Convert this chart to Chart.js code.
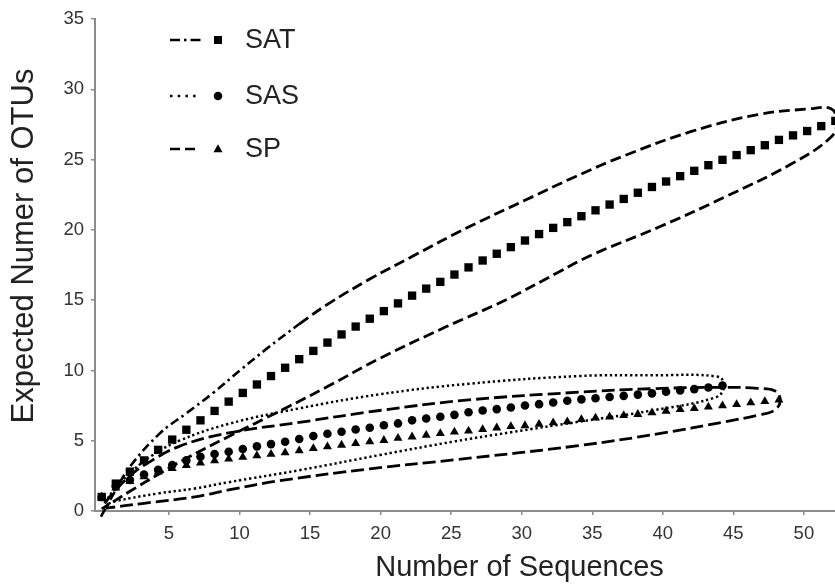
<!DOCTYPE html>
<html>
<head>
<meta charset="utf-8">
<title>Rarefaction</title>
<script src="https://cdn.jsdelivr.net/npm/chart.js@4.4.0/dist/chart.umd.min.js"></script>
<style>
    html, body { margin: 0; padding: 0; background: #fff; overflow: hidden; }
    #wrap { width: 960px; height: 585px; }
</style>
</head>
<body>
<div id="wrap"><canvas id="rarefactionChart" width="960" height="585"></canvas></div>
<script>
// Data (x = number of sequences, 1..N)
const seriesLabels = ['SAT', 'SAS', 'SP'];
const xTickLabels = [5, 10, 15, 20, 25, 30, 35, 40, 45, 50];

const satValues = [
    1.00, 1.95, 2.80, 3.60, 4.35, 5.08, 5.78, 6.45, 7.12, 7.78,
    8.40, 9.00, 9.60, 10.19, 10.80, 11.39, 11.98, 12.56, 13.12, 13.68,
    14.22, 14.77, 15.32, 15.82, 16.30, 16.82, 17.33, 17.82, 18.30, 18.77,
    19.24, 19.70, 20.14, 20.55, 20.97, 21.39, 21.80, 22.20, 22.64, 23.05,
    23.44, 23.82, 24.20, 24.60, 24.98, 25.32, 25.67, 26.02, 26.40, 26.72,
    27.03, 27.38, 27.75
];
const sasValues = [
    1.00, 1.75, 2.20, 2.60, 2.93, 3.27, 3.60, 3.86, 4.05, 4.21,
    4.41, 4.60, 4.76, 4.93, 5.12, 5.33, 5.50, 5.64, 5.80, 5.92,
    6.10, 6.23, 6.45, 6.58, 6.70, 6.84, 7.02, 7.15, 7.25, 7.36,
    7.50, 7.60, 7.72, 7.84, 7.94, 8.02, 8.11, 8.19, 8.28, 8.37,
    8.48, 8.58, 8.67, 8.79, 8.92
];
const spValues = [
    1.00, 1.65, 2.10, 2.45, 2.78, 3.03, 3.25, 3.42, 3.58, 3.70,
    3.83, 3.93, 4.04, 4.15, 4.29, 4.45, 4.57, 4.69, 4.81, 4.93,
    5.03, 5.18, 5.28, 5.40, 5.52, 5.62, 5.70, 5.81, 5.92, 6.02,
    6.08, 6.18, 6.28, 6.35, 6.52, 6.62, 6.70, 6.80, 6.88, 7.00,
    7.11, 7.23, 7.30, 7.41, 7.49, 7.58, 7.70, 7.80, 7.90
];

// Confidence envelopes, [x, y] pairs, left -> right
const satUpper = [[0.95, -0.4], [2, 1.5], [3, 3.15], [5.1, 5.5], [7, 6.95], [8.9, 8.4], [10.8, 10.0],
    [12.7, 11.55], [15, 13.3], [17, 14.7], [20, 16.5], [23, 18.1], [27, 20.2], [31, 22.1], [34.6, 23.8],
    [38.1, 25.3], [42.8, 27.0], [47.5, 28.2], [51.1, 28.6], [52.7, 28.62], [53.1, 27.7]];
const satLower = [[1.0, 0.15], [3, 1.4], [5, 2.6], [7, 3.75], [10, 5.3], [13.8, 7.2], [17, 8.85],
    [20.7, 10.85], [25.4, 13.1], [29.6, 15.0], [33.4, 17.0], [35.7, 18.2], [40.5, 20.2], [45.2, 22.35],
    [49.9, 24.7], [52.7, 26.6]];
const sasUpper = [[1.2, 0.6], [2, 1.65], [3, 2.7], [4.5, 3.9], [6.5, 5.0], [10, 6.2], [15, 7.3], [20.7, 8.3],
    [27, 9.05], [34.8, 9.6], [40, 9.65], [44.7, 9.55], [45.1, 8.9]];
const sasLower = [[1.3, 0.45], [2, 0.7], [5, 1.25], [7.6, 1.6], [10, 2.05], [15, 2.9], [20.7, 3.98],
    [26, 4.95], [30, 5.6], [34.8, 6.35], [40, 7.15], [44.6, 8.12]];
const spUpper = [[1.2, 0.55], [2, 1.5], [3, 2.5], [4, 3.25], [6.5, 4.6], [10, 5.55], [15, 6.3], [20.7, 7.15],
    [27, 7.9], [34.8, 8.45], [40, 8.7], [45.2, 8.8], [47.5, 8.72], [48.7, 8.55], [49.1, 7.9]];
const spLower = [[1.3, 0.2], [4, 0.55], [7.6, 1.0], [10, 1.5], [13.6, 2.15], [20, 3.0], [26.1, 3.65],
    [34.8, 4.65], [40.5, 5.5], [45.2, 6.35], [47.5, 6.82], [48.7, 7.18]];

// Tick labels of the original sit slightly right of the sample positions
const TICK_SHIFT = 0.77;
const FONT = "'Liberation Sans', Arial, sans-serif";

function toPoints(values) {
    return values.map(function (v, i) { return {x: i + 1, y: v}; });
}
function pairs(list) {
    return list.map(function (p) { return {x: p[0], y: p[1]}; });
}
// upper curve out, lower curve back -> closed loop
function loop(upper, lower) {
    return pairs(upper.concat(lower.slice().reverse()));
}

function curve(label, data, dash, width) {
    return {
        label: label, data: data, showLine: true, fill: false, tension: 0.4,
        borderColor: '#000', borderWidth: width, borderDash: dash,
        pointRadius: 0, pointHoverRadius: 0, clip: false
    };
}
function markers(label, data, style, radius) {
    return {
        label: label, data: data, showLine: false, pointStyle: style,
        pointRadius: radius, pointHoverRadius: radius,
        backgroundColor: '#000', borderColor: '#000', borderWidth: 0, clip: false
    };
}

const satHead = satUpper.filter(function (p) { return p[0] <= 15; });
const satTail = satUpper.filter(function (p) { return p[0] >= 15; });

// Legend: line sample + marker + text, like the original
const legendItems = [
    {label: seriesLabels[0], dash: [10, 4, 2.5, 4], end: 202, marker: 'rect'},
    {label: seriesLabels[1], dash: [2.5, 5.2], end: 197, marker: 'circle'},
    {label: seriesLabels[2], dash: [10, 5], end: 195, marker: 'triangle'}
];
const sampleLegend = {
    id: 'sampleLegend',
    afterDraw: function (chart) {
        const ctx = chart.ctx;
        const rows = [40, 96, 149];
        ctx.save();
        legendItems.forEach(function (item, i) {
            const y = rows[i];
            ctx.strokeStyle = '#000';
            ctx.lineWidth = 2.6;
            ctx.setLineDash(item.dash);
            ctx.beginPath();
            ctx.moveTo(170, y);
            ctx.lineTo(item.end, y);
            ctx.stroke();
            ctx.setLineDash([]);
            ctx.fillStyle = '#000';
            ctx.beginPath();
            if (item.marker === 'rect') {
                ctx.rect(214, y - 4, 8, 8);
            } else if (item.marker === 'circle') {
                ctx.arc(218, y, 4.3, 0, Math.PI * 2);
            } else {
                ctx.moveTo(218, y - 4.8);
                ctx.lineTo(222.5, y + 3.2);
                ctx.lineTo(213.5, y + 3.2);
                ctx.closePath();
            }
            ctx.fill();
            ctx.fillStyle = '#222';
            ctx.font = '27px ' + FONT;
            ctx.textBaseline = 'middle';
            ctx.textAlign = 'left';
            ctx.fillText(item.label, 245, y + 1);
        });
        ctx.restore();
    }
};

// Y title: in the original it sits above the middle of the axis
const yTitle = {
    id: 'yTitle',
    afterDraw: function (chart) {
        const ctx = chart.ctx;
        ctx.save();
        ctx.translate(24.5, 246);
        ctx.rotate(-Math.PI / 2);
        ctx.fillStyle = '#222';
        ctx.font = '31px ' + FONT;
        ctx.textAlign = 'center';
        ctx.textBaseline = 'middle';
        ctx.fillText('Expected Numer of OTUs', 0, 0);
        ctx.restore();
    }
};

new Chart(document.getElementById('rarefactionChart'), {
    type: 'scatter',
    data: {
        datasets: [
            markers(seriesLabels[0], toPoints(satValues), 'rect', 5.9),
            markers(seriesLabels[1], toPoints(sasValues), 'circle', 4.3),
            markers(seriesLabels[2], toPoints(spValues), 'triangle', 5.2),
            curve('SAT upper', pairs(satHead), [9, 4, 2.5, 4], 2.6),
            curve('SAT band', loop(satTail, satLower), [11, 5], 2.8),
            curve('SAS band', loop(sasUpper, sasLower), [2.3, 2.8], 2.5),
            curve('SP band', loop(spUpper, spLower), [13, 5], 2.8)
        ]
    },
    options: {
        responsive: false,
        animation: false,
        layout: {padding: {top: 19, right: 16, bottom: 0, left: 0}},
        plugins: {
            legend: {display: false},
            tooltip: {enabled: false}
        },
        scales: {
            x: {
                type: 'linear',
                min: 0.525,
                max: 60.7,
                afterBuildTicks: function (axis) {
                    axis.ticks = xTickLabels.map(function (n) { return {value: n + TICK_SHIFT}; });
                },
                afterFit: function (scale) { scale.height = 74; },
                border: {color: '#8c8c8c', width: 2},
                grid: {drawOnChartArea: false, color: '#8c8c8c', tickLength: 4, lineWidth: 1.5},
                ticks: {
                    color: '#333', padding: 8, maxRotation: 0, autoSkip: false,
                    font: {family: FONT, size: 18.5},
                    callback: function (value, index) { return String(xTickLabels[index]); }
                },
                title: {
                    display: true, text: 'Number of Sequences', color: '#222',
                    font: {family: FONT, size: 29}, padding: {top: 0, bottom: 0}
                }
            },
            y: {
                min: 0,
                max: 35,
                afterFit: function (scale) { scale.width = 95; },
                border: {color: '#8c8c8c', width: 2},
                grid: {drawOnChartArea: false, color: '#8c8c8c', tickLength: 4, lineWidth: 1.5},
                ticks: {stepSize: 5, color: '#333', padding: 7, font: {family: FONT, size: 18.5}},
                title: {display: false}
            }
        }
    },
    plugins: [sampleLegend, yTitle]
});
</script>
</body>
</html>
